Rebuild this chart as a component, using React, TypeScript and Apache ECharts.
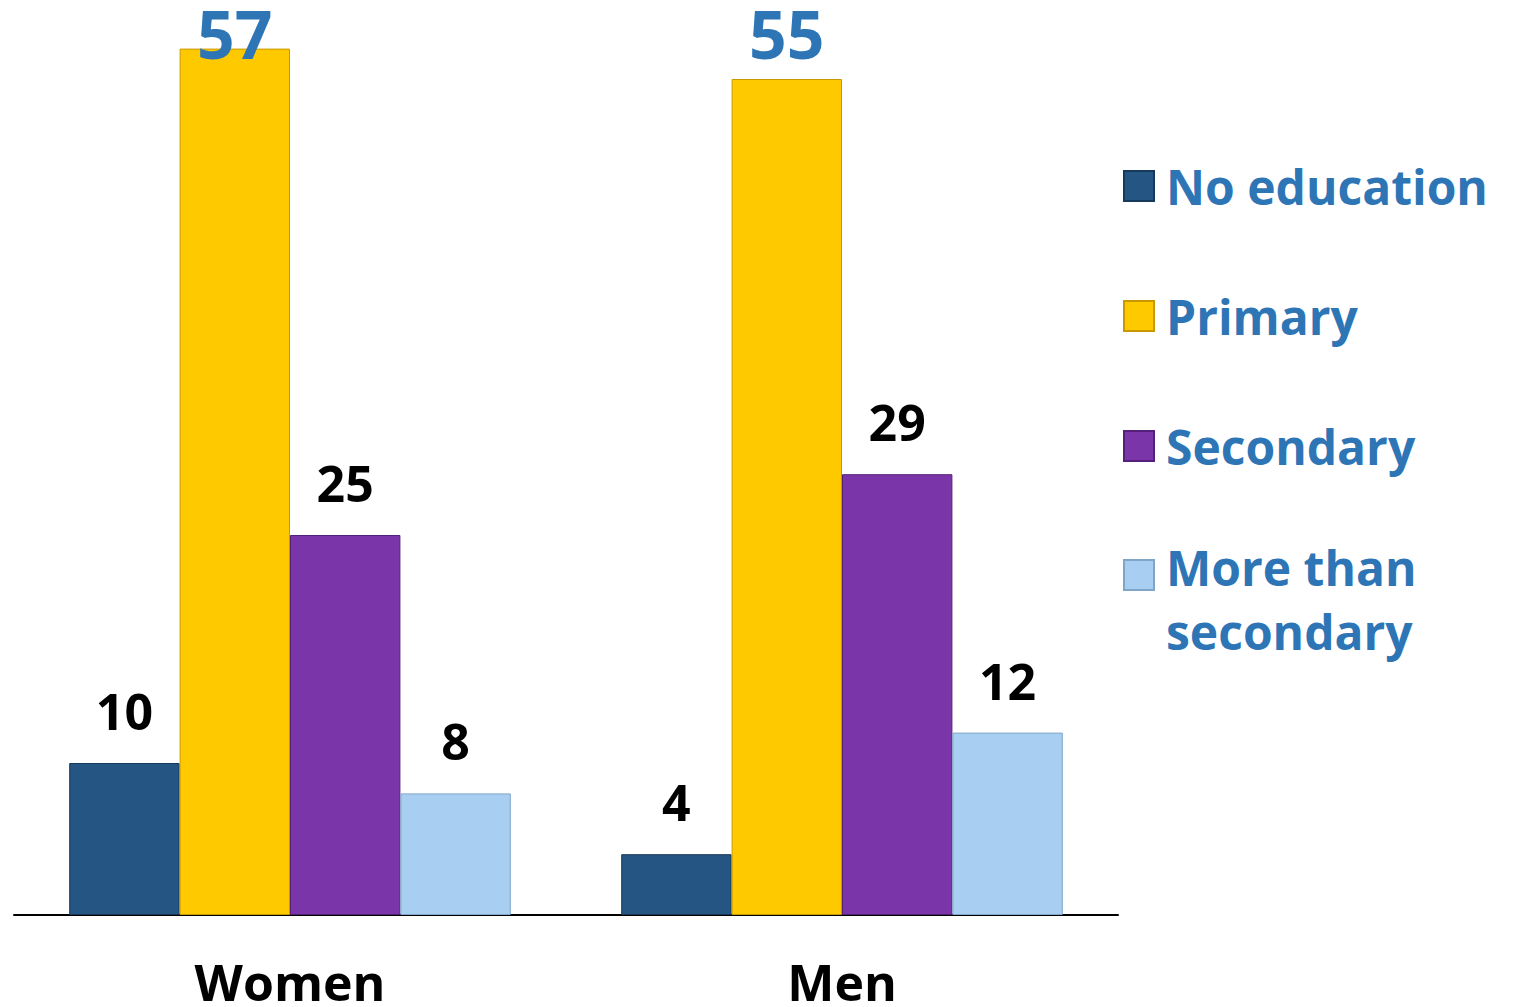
import React, { useEffect, useRef } from "react";
import * as echarts from "echarts";

const categories = ["Women", "Men"];
const seriesNames = ["No education", "Primary", "Secondary", "More than secondary"];
const noEducation = [10, 4];
const primary = [57, 55];
const secondary = [25, 29];
const moreThanSecondary = [8, 12];

const colors = ["#255583", "#FFC900", "#7A36A8", "#A8CEF1"];
const borders = ["#173a5c", "#c99a00", "#55207a", "#7fa6c9"];

const FONT = "'Open Sans', 'Noto Sans', sans-serif";

export default function App() {
  const ref = useRef<HTMLDivElement>(null);
  useEffect(() => {
    if (!ref.current) return;
    const chart = echarts.init(ref.current, null, { renderer: "svg" });
    const values = [noEducation, primary, secondary, moreThanSecondary];
    const iconSingle = "path://M0,0L0,0M0,33H30V63H0ZM0,96L0,96";
    const iconTop = "path://M0,0L0,0M0,9H30V39H0ZM0,96L0,96";
    const blackLabel = {
      show: true,
      position: "top",
      distance: 27,
      color: "#000",
      fontFamily: FONT,
      fontWeight: "bold",
      fontSize: 50,
    };
    const series = values.map((vals, i) => ({
      name: seriesNames[i],
      type: "bar",
      barGap: "0%",
      barCategoryGap: "20%",
      itemStyle: { color: colors[i], borderColor: borders[i], borderWidth: 1 },
      label:
        i === 1
          ? { ...blackLabel, color: "#2E75B6", fontSize: 66 }
          : blackLabel,
      data:
        i === 1
          ? vals.map((v, j) => ({
              value: v,
              label: { distance: j === 0 ? -17 : 13 },
            }))
          : vals,
    }));
    chart.setOption({
      animation: false,
      grid: { left: 14, right: 401, top: 3, bottom: 92, containLabel: false },
      legend: {
        orient: "vertical",
        left: 1123,
        top: 137,
        padding: 0,
        itemGap: 32,
        itemWidth: 30,
        itemHeight: 96,
        selectedMode: false,
        textStyle: {
          color: "#2E75B6",
          fontFamily: FONT,
          fontWeight: "bold",
          fontSize: 48,
          lineHeight: 64,
          padding: [0, 0, 0, 7],
        },
        data: [
          { name: seriesNames[0], icon: iconSingle },
          { name: seriesNames[1], icon: iconSingle },
          { name: seriesNames[2], icon: iconSingle },
          {
            name: seriesNames[3],
            icon: iconTop,
            textStyle: { padding: [16, 0, 0, 7] },
          },
        ],
        formatter: (name: string) =>
          name === "More than secondary" ? "More than\nsecondary" : name,
      },
      xAxis: {
        type: "category",
        data: categories,
        axisLine: { lineStyle: { color: "#000", width: 2 } },
        axisTick: { show: false },
        axisLabel: {
          color: "#000",
          fontFamily: FONT,
          fontWeight: "bold",
          fontSize: 50,
          margin: 42,
        },
      },
      yAxis: {
        type: "value",
        min: 0,
        max: 60,
        show: false,
        splitLine: { show: false },
      },
      series,
    });
    return () => chart.dispose();
  }, []);
  return (
    <div
      ref={ref}
      style={{ position: "absolute", left: 0, top: 0, width: 1519, height: 1007 }}
    />
  );
}
